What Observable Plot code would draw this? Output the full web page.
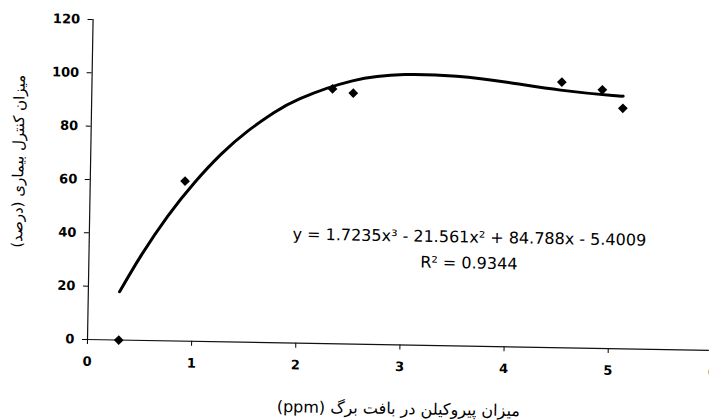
<!DOCTYPE html>
<html>
<head>
<meta charset="utf-8">
<script src="https://cdn.jsdelivr.net/npm/d3@7"></script>
<script src="https://cdn.jsdelivr.net/npm/@observablehq/plot@0.6"></script>
<style>
  html, body { margin: 0; padding: 0; background: #fff; }
  #chart { width: 709px; height: 420px; overflow: hidden; position: relative; }
  #chart svg { transform: rotate(1deg); transform-origin: 87px 339px; }
</style>
</head>
<body>
<div id="chart"></div>
<script>
// Observed data (diamonds)
const xValues = [0.3, 0.91, 2.31, 2.51, 4.51, 4.90, 5.10];
const yValues = [0, 60.0, 95.6, 94.1, 99.6, 97.0, 90.2];

// Trend curve
const curveX = [0.3, 0.5, 0.75, 1.0, 1.25, 1.5, 1.75, 2.0, 2.5, 3.0, 3.5, 4.0, 4.5, 5.0, 5.1];
const curveY = [18.1, 31.8, 46.8, 59.5, 70.3, 79.1, 86.2, 91.7, 98.7, 101.4, 101.1, 99.1, 96.6, 94.9, 94.8];

const xTicks = [0, 1, 2, 3, 4, 5, 6];
const yTicks = [0, 20, 40, 60, 80, 100, 120];

const equationText = "y = 1.7235x³ - 21.561x² + 84.788x - 5.4009\nR² = 0.9344";
const xTitle = "میزان پیروکیلن در بافت برگ (ppm)";
const yTitle = "میزان کنترل بیماری (درصد)";

const points = xValues.map((x, i) => ({x, y: yValues[i]}));
const curve = curveX.map((x, i) => ({x, y: curveY[i]}));

const chart = Plot.plot({
  width: 709,
  height: 420,
  marginLeft: 87,
  marginRight: -3,
  marginTop: 19,
  marginBottom: 81,
  style: {fontFamily: "DejaVu Sans", background: "#fff", color: "#000"},
  x: {domain: [0, 6], ticks: xTicks, label: null},
  y: {domain: [0, 120], ticks: yTicks, label: null},
  marks: [
    Plot.axisX({ticks: xTicks, tickSize: 5, tickPadding: 12, fontSize: 13, fontWeight: "bold", label: null, tickFormat: d => String(d)}),
    Plot.axisY({ticks: yTicks, tickSize: 5, tickPadding: 8, fontSize: 13, fontWeight: "bold", label: null, tickFormat: d => String(d)}),
    Plot.ruleX([0], {y1: 0, y2: 120, stroke: "#111", strokeWidth: 1.2}),
    Plot.ruleY([0], {stroke: "#111", strokeWidth: 1.2}),
    Plot.line(curve, {x: "x", y: "y", curve: "natural", stroke: "#000", strokeWidth: 3}),
    Plot.dot(points, {x: "x", y: "y", symbol: "diamond2", r: 4.4, fill: "#000", stroke: "none"}),
    Plot.text([equationText], {
      frameAnchor: "top-left", dx: 380, dy: 198,
      textAnchor: "middle", lineAnchor: "top", lineHeight: 1.62,
      fontSize: 16, fontFamily: "DejaVu Sans", fill: "#000"
    }),
    Plot.text([xTitle], {
      frameAnchor: "bottom", dx: -0.5, dy: 64,
      textAnchor: "middle", lineAnchor: "middle",
      fontSize: 16, fontFamily: "DejaVu Sans", fill: "#000"
    }),
    Plot.text([yTitle], {
      frameAnchor: "left", dx: -72, dy: -17, rotate: -90,
      textAnchor: "middle", lineAnchor: "middle",
      fontSize: 15, fontFamily: "DejaVu Sans", fill: "#000"
    })
  ]
});

d3.select(chart).selectAll("text")
  .filter(function() { return /[\u0600-\u06FF]/.test(this.textContent); })
  .attr("direction", "rtl")
  .style("direction", "rtl")
  .style("unicode-bidi", "embed");

document.getElementById("chart").appendChild(chart);
</script>
</body>
</html>
